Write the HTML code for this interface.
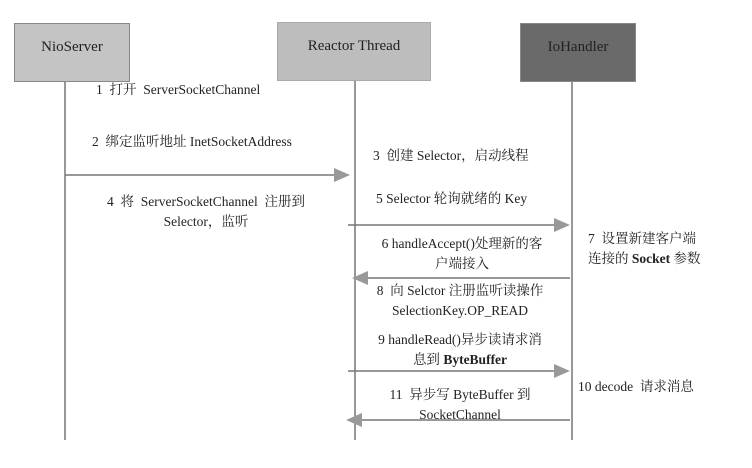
<!DOCTYPE html>
<html><head><meta charset="utf-8"><style>
body{margin:0;width:752px;height:468px;background:#fff;position:relative;overflow:hidden;font-family:"Liberation Serif","Noto Serif CJK SC",serif;color:#222}
.box{position:absolute;border:1px solid #888;font-size:15px;text-align:center;box-sizing:border-box}
.t{position:absolute;font-size:13.5px;line-height:20px;white-space:nowrap}
.c{text-align:center}
</style></head><body>
<div class="box" style="left:14px;top:23px;width:116px;height:59px;background:#c4c4c4;line-height:46px">NioServer</div>
<div class="box" style="left:277px;top:22px;width:154px;height:59px;background:#bdbdbd;line-height:46px;border-color:#aaa">Reactor Thread</div>
<div class="box" style="left:520px;top:23px;width:116px;height:59px;background:#6a6a6a;line-height:46px">IoHandler</div>
<svg width="752" height="468" style="position:absolute;left:0;top:0">
<g stroke="#777" stroke-width="1.5" fill="none">
<line x1="65" y1="82" x2="65" y2="440"/>
<line x1="355" y1="81" x2="355" y2="440"/>
<line x1="572" y1="82" x2="572" y2="440"/>
<line x1="65" y1="175" x2="335" y2="175"/>
<line x1="348" y1="225" x2="555" y2="225"/>
<line x1="570" y1="278" x2="368" y2="278"/>
<line x1="348" y1="371" x2="555" y2="371"/>
<line x1="570" y1="420" x2="362" y2="420"/>
</g>
<g fill="#999">
<polygon points="350,175 334,168 334,182"/>
<polygon points="570,225 554,218 554,232"/>
<polygon points="352,278 368,271 368,285"/>
<polygon points="570,371 554,364 554,378"/>
<polygon points="346,420 362,413 362,427"/>
</g>
</svg>
<div class="t" style="left:96px;top:80px">1 &nbsp;打开 &nbsp;ServerSocketChannel</div>
<div class="t" style="left:92px;top:132px">2 &nbsp;绑定监听地址 InetSocketAddress</div>
<div class="t" style="left:373px;top:146px">3 &nbsp;创建 Selector，启动线程</div>
<div class="t c" style="left:86px;top:192px;width:240px">4 &nbsp;将 &nbsp;ServerSocketChannel &nbsp;注册到<br>Selector，监听</div>
<div class="t" style="left:376px;top:189px">5 Selector 轮询就绪的 Key</div>
<div class="t c" style="left:366px;top:234px;width:192px">6 handleAccept()处理新的客<br>户端接入</div>
<div class="t" style="left:588px;top:229px">7 &nbsp;设置新建客户端<br>连接的 <b>Socket</b> 参数</div>
<div class="t c" style="left:364px;top:281px;width:192px">8 &nbsp;向 Selctor 注册监听读操作<br>SelectionKey.OP_READ</div>
<div class="t c" style="left:364px;top:330px;width:192px">9 handleRead()异步读请求消<br>息到 <b>ByteBuffer</b></div>
<div class="t" style="left:578px;top:377px">10 decode &nbsp;请求消息</div>
<div class="t c" style="left:364px;top:385px;width:192px">11 &nbsp;异步写 ByteBuffer 到<br>SocketChannel</div>
</body></html>
